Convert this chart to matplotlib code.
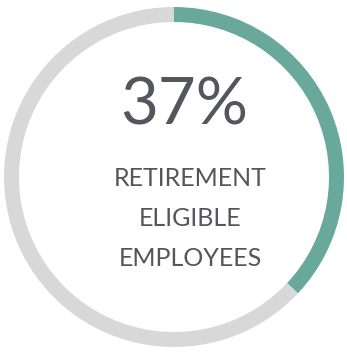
import matplotlib
matplotlib.use("Agg")
import matplotlib.pyplot as plt

# share of staff eligible for retirement
share = 37
values = [share, 100 - share]
colors = ["#69a99b", "#d8d8d8"]

headline = f"{share}%"
caption_lines = ["RETIREMENT", "ELIGIBLE", "EMPLOYEES"]

W, H = 347, 354
fig = plt.figure(figsize=(W / 100, H / 100), dpi=100)
ax = fig.add_axes([0, 0, 1, 1])

cx, cy, r = 174, H - 177, 170
ax.pie(values, colors=colors, radius=r, center=(cx, cy), startangle=90,
       counterclock=False, wedgeprops=dict(width=15, linewidth=0),
       frame=True)
ax.set_xlim(0, W)
ax.set_ylim(0, H)
ax.set_aspect("equal")
ax.axis("off")

text_color = "#55555d"
ax.text(184, H - 106, headline, ha="center", va="center",
        fontsize=47, family="Lato", color=text_color)
for i, line in enumerate(caption_lines):
    ax.text(190, H - (178 + 40 * i), line, ha="center", va="center",
            fontsize=18, family="Lato", color=text_color)

fig.savefig("out.png", dpi=100)
